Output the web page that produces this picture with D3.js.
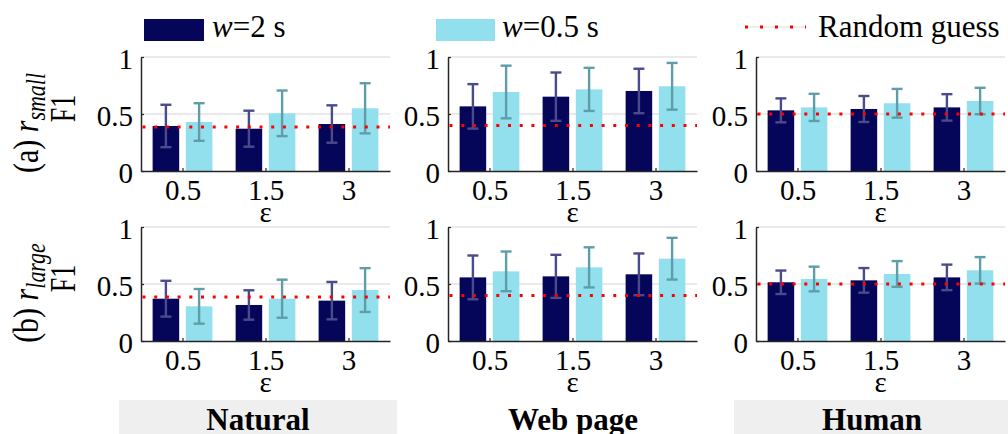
<!DOCTYPE html>
<html>
<head>
<meta charset="utf-8">
<script src="https://cdn.jsdelivr.net/npm/d3@7"></script>
<style>
  html, body { margin: 0; padding: 0; background: #fff; }
  svg text, svg tspan { font-family: "Liberation Serif", "Tinos", "Times New Roman", "DejaVu Serif", serif !important; }
</style>
</head>
<body>
<svg id="chart" width="1008" height="434"></svg>
<script>
// ---- data ----
const datasets = ["Natural", "Web page", "Human"];
const rowTags = ["(a)", "(b)"];
const rowSubs = ["small", "large"];
const epsilons = ["0.5", "1.5", "3"];
const yTicks = [0, 0.5, 1];
const randomGuess = [0.385, 0.40, 0.50];

// F1 mean and standard deviation, one inner array per dataset (Natural, Web page, Human)
// r_small
const smallW2Mean  = [[0.395, 0.371, 0.412], [0.567, 0.652, 0.702], [0.532, 0.544, 0.558]];
const smallW2Sd    = [[0.186, 0.158, 0.164], [0.195, 0.212, 0.195], [0.105, 0.114, 0.116]];
const smallW05Mean = [[0.430, 0.506, 0.550], [0.693, 0.716, 0.743], [0.558, 0.594, 0.614]];
const smallW05Sd   = [[0.165, 0.200, 0.220], [0.231, 0.189, 0.205], [0.119, 0.126, 0.116]];
// r_large
const largeW2Mean  = [[0.371, 0.316, 0.354], [0.558, 0.567, 0.585], [0.515, 0.532, 0.558]];
const largeW2Sd    = [[0.157, 0.129, 0.164], [0.192, 0.189, 0.183], [0.103, 0.108, 0.112]];
const largeW05Mean = [[0.304, 0.371, 0.447], [0.611, 0.646, 0.722], [0.544, 0.588, 0.620]];
const largeW05Sd   = [[0.152, 0.167, 0.192], [0.174, 0.176, 0.183], [0.108, 0.113, 0.116]];

// ---- layout & style ----
const svg = d3.select("#chart");
const panelLeft = [141, 448, 756];
const panelWidth = 249;
const panelHeight = 114;
const rowBottom = [171, 341];
const barColor = ["#05055a", "#92dfed"];
const errColor = ["#4b4b8c", "#5f9ea8"];
const barOffset = [-0.2, 0.2];
const barWidthUnits = 0.32;

const rowsMean = [[smallW2Mean, smallW05Mean], [largeW2Mean, largeW05Mean]];
const rowsSd = [[smallW2Sd, smallW05Sd], [largeW2Sd, largeW05Sd]];

const x = d3.scaleLinear().domain([0.5, 3.5]).range([0, panelWidth]);
const y = d3.scaleLinear().domain([0, 1]).range([panelHeight, 0]);
const bw = x(barWidthUnits) - x(0);

rowsMean.forEach((seriesMeans, r) => {
  datasets.forEach((name, d) => {
    const g = svg.append("g")
      .attr("transform", `translate(${panelLeft[d]},${rowBottom[r] - panelHeight})`);

    // horizontal grid
    g.selectAll("line.grid").data(yTicks.filter(v => v > 0)).join("line")
      .attr("class", "grid")
      .attr("x1", 0).attr("x2", panelWidth)
      .attr("y1", v => y(v)).attr("y2", v => y(v))
      .attr("stroke", "#e3e3e3").attr("stroke-width", 1.5);

    // bars
    seriesMeans.forEach((means, s) => {
      const vals = means[d].map((v, i) => ({ i: i + 1, v, sd: rowsSd[r][s][d][i] }));
      g.selectAll(`rect.s${s}`).data(vals).join("rect")
        .attr("class", `s${s}`)
        .attr("x", p => x(p.i + barOffset[s]) - bw / 2)
        .attr("width", bw)
        .attr("y", p => y(p.v))
        .attr("height", p => y(0) - y(p.v))
        .attr("fill", barColor[s]);
    });

    // axes
    const xa = g.append("g")
      .attr("transform", `translate(0,${panelHeight})`)
      .call(d3.axisBottom(x).tickValues([1, 2, 3]).tickFormat(v => epsilons[v - 1])
        .tickSizeInner(-3).tickSizeOuter(0).tickPadding(8));
    const ya = g.append("g")
      .call(d3.axisLeft(y).tickValues(yTicks).tickFormat(d3.format(""))
        .tickSizeInner(-3).tickSizeOuter(0).tickPadding(8));
    [xa, ya].forEach(a => {
      a.attr("font-size", 29).attr("font-family", null);
      a.select(".domain").attr("stroke", "#262626").attr("stroke-width", 1.5);
      a.selectAll(".tick line").attr("stroke", "#262626").attr("stroke-width", 1.2);
      a.selectAll(".tick text").attr("fill", "#000");
    });
    ya.selectAll(".tick text").attr("dy", "0.4em");

    // error bars
    seriesMeans.forEach((means, s) => {
      const vals = means[d].map((v, i) => ({ i: i + 1, v, sd: rowsSd[r][s][d][i] }));
      const eb = g.selectAll(`g.eb${s}`).data(vals).join("g").attr("class", `eb${s}`)
        .attr("stroke", errColor[s]).attr("stroke-width", 2.4);
      eb.append("line")
        .attr("x1", p => x(p.i + barOffset[s])).attr("x2", p => x(p.i + barOffset[s]))
        .attr("y1", p => y(p.v - p.sd)).attr("y2", p => y(p.v + p.sd));
      [-1, 1].forEach(k => {
        eb.append("line")
          .attr("x1", p => x(p.i + barOffset[s]) - 5.5).attr("x2", p => x(p.i + barOffset[s]) + 5.5)
          .attr("y1", p => y(p.v + k * p.sd)).attr("y2", p => y(p.v + k * p.sd));
      });
    });

    // random-guess reference
    g.append("line")
      .attr("x1", x(0.5)).attr("x2", x(3.5))
      .attr("y1", y(randomGuess[d])).attr("y2", y(randomGuess[d]))
      .attr("stroke", "#ff0000").attr("stroke-width", 3)
      .attr("stroke-dasharray", "3 8.7").attr("stroke-dashoffset", -1.5);

    // epsilon axis title
    g.append("text")
      .attr("x", x(2)).attr("y", panelHeight + 51)
      .attr("text-anchor", "middle").attr("font-size", 29)
      .text("ε");
  });

  // row y-label: "(a) r_small" / "F1"
  const cy = rowBottom[r] - panelHeight / 2;
  const l1 = svg.append("text")
    .attr("transform", `translate(38,${cy + 9}) rotate(-90) scale(1,1.2)`)
    .attr("text-anchor", "middle").attr("font-size", 30);
  l1.append("tspan").text(rowTags[r] + " ");
  l1.append("tspan").attr("font-style", "italic").text("r");
  l1.append("tspan").attr("font-style", "italic").attr("font-size", 22).attr("dy", 6).text(rowSubs[r]);
  svg.append("text")
    .attr("transform", `translate(75,${cy - 5.5}) rotate(-90) scale(1,1.35)`)
    .attr("text-anchor", "middle").attr("font-size", 26)
    .text("F1");
});

// ---- legend ----
const legend = svg.append("g").attr("font-size", 31);
legend.append("rect").attr("x", 144).attr("y", 19).attr("width", 60).attr("height", 22).attr("fill", barColor[0]);
const t1 = legend.append("text").attr("x", 212).attr("y", 37);
t1.append("tspan").attr("font-style", "italic").text("w");
t1.append("tspan").text("=2 s");
legend.append("rect").attr("x", 436).attr("y", 19).attr("width", 59).attr("height", 22).attr("fill", barColor[1]);
const t2 = legend.append("text").attr("x", 502).attr("y", 37);
t2.append("tspan").attr("font-style", "italic").text("w");
t2.append("tspan").text("=0.5 s");
legend.append("line").attr("x1", 745).attr("x2", 806).attr("y1", 27).attr("y2", 27)
  .attr("stroke", "#eeeeee").attr("stroke-width", 2);
legend.append("line").attr("x1", 745).attr("x2", 806).attr("y1", 27).attr("y2", 27)
  .attr("stroke", "#ff0000").attr("stroke-width", 3).attr("stroke-dasharray", "3 12");
legend.append("text").attr("x", 818).attr("y", 37).text("Random guess");

// ---- dataset captions ----
const captionBox = [[119, 397, "#efefef"], [440, 705, "#ffffff"], [734, 1008, "#efefef"]];
const captionX = [258, 573, 872];
datasets.forEach((name, d) => {
  const [x0, x1, fill] = captionBox[d];
  svg.append("rect").attr("x", x0).attr("y", 400).attr("width", x1 - x0).attr("height", 34).attr("fill", fill);
  svg.append("text")
    .attr("x", captionX[d]).attr("y", 430)
    .attr("text-anchor", "middle").attr("font-size", 31).attr("font-weight", "bold")
    .text(name);
});
</script>
</body>
</html>
